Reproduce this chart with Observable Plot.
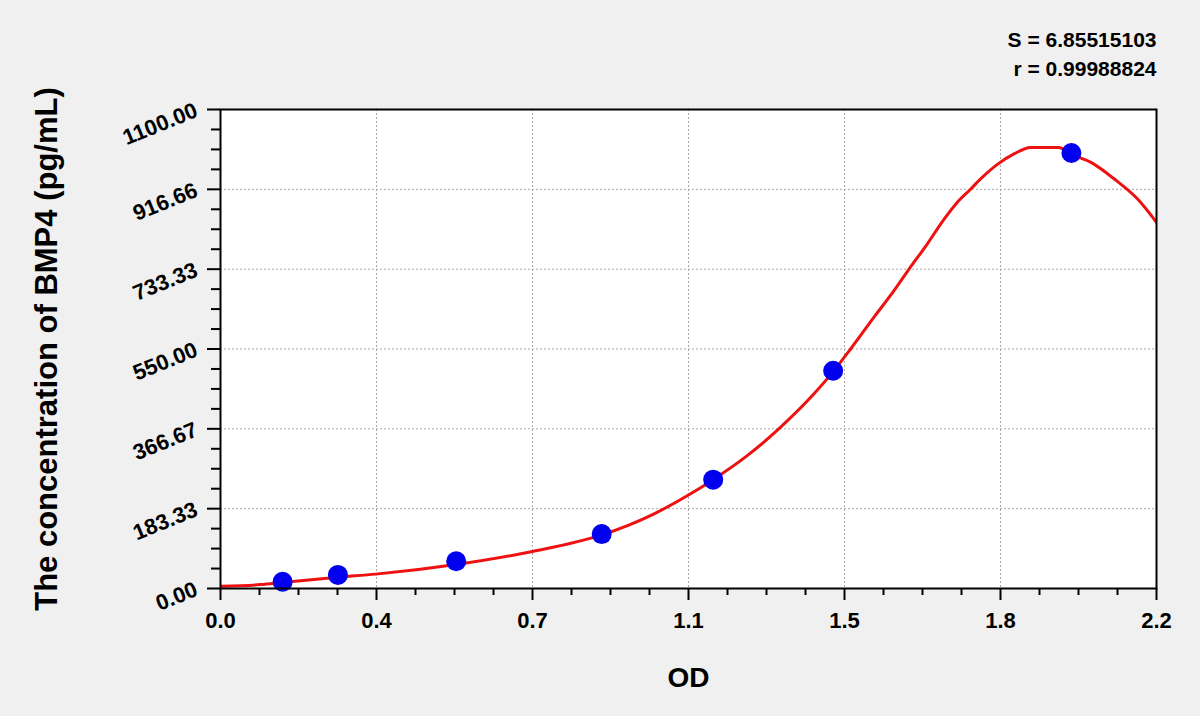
<!DOCTYPE html>
<html>
<head>
<meta charset="utf-8">
<script src="https://cdn.jsdelivr.net/npm/d3@7"></script>
<script src="https://cdn.jsdelivr.net/npm/@observablehq/plot@0.6"></script>
<style>
  html, body { margin: 0; padding: 0; background: #f0f0f0; }
  #chart svg { display: block; }
</style>
</head>
<body>
<div id="chart"></div>
<script>
// Standard points (OD, concentration pg/mL)
const stdOD   = [0.146, 0.276, 0.554, 0.896, 1.158, 1.440, 2.000];
const stdConc = [15.6, 31.25, 62.5, 125, 250, 500, 1000];

// Fitted curve
const curveOD   = [0, 0.094, 0.146, 0.276, 0.365, 0.554, 0.733, 0.896, 1.018, 1.097, 1.158, 1.238, 1.316, 1.395, 1.440, 1.481, 1.536, 1.583, 1.618, 1.661, 1.700, 1.732, 1.763, 1.786, 1.826, 1.865, 1.904, 1.970, 2.000, 2.045, 2.100, 2.155, 2.200];
const curveConc = [5, 9, 14, 26, 33, 55, 85, 123, 171, 213, 250, 305, 370, 447, 498, 550, 623, 684, 733, 791, 847, 887, 917, 940, 974, 998, 1013, 1013, 997, 979, 941, 895, 841];

// Axis ticks
const xMajor  = [0, 0.36667, 0.73333, 1.1, 1.46667, 1.83333, 2.2];
const xLabels = ["0.0", "0.4", "0.7", "1.1", "1.5", "1.8", "2.2"];
const yMajor  = [0, 183.33, 366.67, 550, 733.33, 916.66, 1100];
const yLabels = ["0.00", "183.33", "366.67", "550.00", "733.33", "916.66", "1100.00"];

const statS = "S = 6.85515103";
const statR = "r = 0.99988824";
const yTitle = "The concentration of BMP4 (pg/mL)";
const xTitle = "OD";

const stdData = stdOD.map((x, i) => ({x, y: stdConc[i]}));
const curveData = curveOD.map((x, i) => ({x, y: curveConc[i]}));
const xMinor = d3.range(1, 24).filter(k => k % 4 !== 0).map(k => k * 2.2 / 24);
const yMinor = d3.range(1, 24).filter(k => k % 4 !== 0).map(k => k * 1100 / 24);
const xGrid = xMajor.slice(1, -1);
const yGrid = yMajor.slice(1, -1);

const font = "Liberation Sans, Arial, Helvetica, sans-serif";

const chart = Plot.plot({
  width: 1200,
  height: 716,
  marginLeft: 220,
  marginRight: 44,
  marginTop: 109,
  marginBottom: 128,
  style: {background: "#f0f0f0", fontFamily: font, color: "black"},
  x: {domain: [0, 2.2], axis: null},
  y: {domain: [0, 1100], axis: null},
  marks: [
    Plot.frame({fill: "white", stroke: null}),
    Plot.gridX(xGrid, {stroke: "#a8a8a8", strokeOpacity: 1, strokeWidth: 1, strokeDasharray: "2,2"}),
    Plot.gridY(yGrid, {stroke: "#a8a8a8", strokeOpacity: 1, strokeWidth: 1, strokeDasharray: "2,2"}),
    Plot.line(curveData, {x: "x", y: "y", stroke: "#ee1111", strokeWidth: 3, curve: "monotone-x", clip: true}),
    Plot.dot(stdData, {x: "x", y: "y", r: 10, fill: "#0000ee", stroke: null}),
    Plot.frame({stroke: "black", strokeWidth: 2}),
    Plot.axisX(xMajor, {tickSize: 12, tickFormat: () => "", label: null, stroke: "black", strokeWidth: 2}),
    Plot.axisX(xMinor, {tickSize: 7, tickFormat: () => "", label: null, stroke: "black", strokeWidth: 2}),
    Plot.axisY(yMajor, {tickSize: 13, tickFormat: () => "", label: null, stroke: "black", strokeWidth: 2}),
    Plot.axisY(yMinor, {tickSize: 9, tickFormat: () => "", label: null, stroke: "black", strokeWidth: 2}),
    Plot.text(xMajor, {x: d => d, frameAnchor: "bottom", dy: 32, text: (d, i) => xLabels[i],
      fontSize: 22, fontWeight: "bold", lineAnchor: "middle", fill: "black"}),
    Plot.text(yMajor, {y: d => d, frameAnchor: "left", dx: -24, text: (d, i) => yLabels[i],
      rotate: -22, textAnchor: "end", lineAnchor: "middle", fontSize: 22, fontWeight: "bold", fill: "black"}),
    Plot.text([statS], {frameAnchor: "top-right", dy: -69, textAnchor: "end", lineAnchor: "middle",
      fontSize: 21, fontWeight: "bold", fill: "black"}),
    Plot.text([statR], {frameAnchor: "top-right", dy: -40, textAnchor: "end", lineAnchor: "middle",
      fontSize: 21, fontWeight: "bold", fill: "black"}),
    Plot.text([yTitle], {frameAnchor: "left", dx: -173, rotate: -90, textAnchor: "middle", lineAnchor: "middle",
      fontSize: 31, fontWeight: "bold", fill: "black"}),
    Plot.text([xTitle], {frameAnchor: "bottom", dy: 90, lineAnchor: "middle",
      fontSize: 28, fontWeight: "bold", fill: "black"})
  ]
});
document.getElementById("chart").appendChild(chart);
</script>
</body>
</html>
